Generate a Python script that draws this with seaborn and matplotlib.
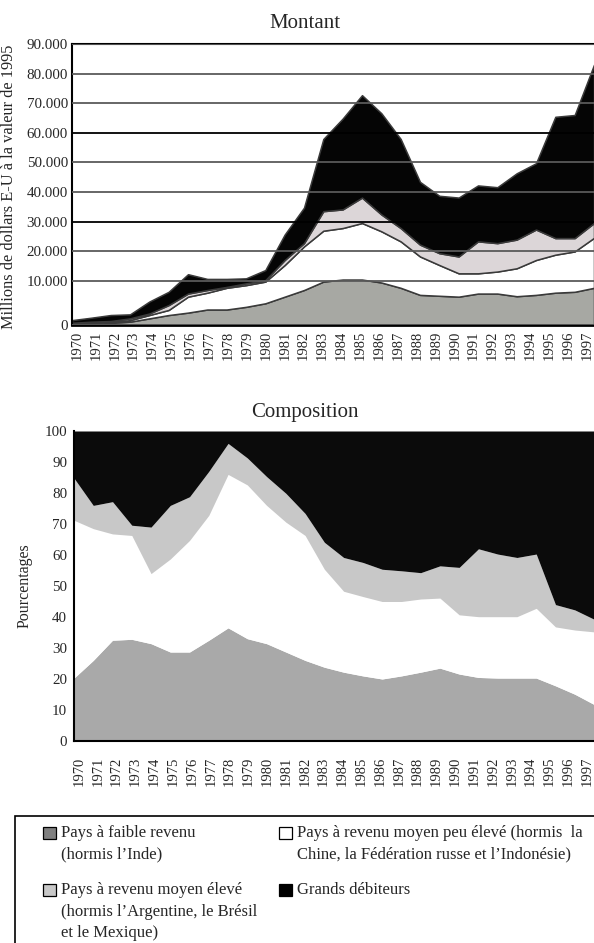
import numpy as np
import matplotlib
matplotlib.use('Agg')
import matplotlib.pyplot as plt
from matplotlib.patches import Rectangle
import seaborn as sns

# ─── Data ─────────────────────────────────────────────────────────────────────

years = list(range(1970, 1998))

# Montant : millions de dollars E-U à la valeur de 1995 (valeurs par couche)
mt_faible = [300, 400, 500, 750, 1500, 2250, 2800, 3500, 3500, 4100, 4900, 6400, 7900, 9800,
             10400, 10400, 9600, 8400, 6800, 6600, 6400, 7100, 7100, 6500, 6800, 7300, 7500, 8400]
mt_moyen_bas = [100, 50, 100, 350, 750, 1150, 3600, 3800, 4900, 4900, 4900, 8900, 13700, 17100,
                17400, 19100, 17100, 14900, 11400, 8700, 6100, 5400, 6000, 7700, 10200, 11500, 12400, 16100]
mt_moyen_haut = [100, 300, 300, 400, 350, 1100, 700, 600, 200, 400, 400, 1700, 1100, 6600,
                 6300, 8600, 5700, 4500, 4000, 4000, 5700, 10800, 9600, 9700, 10300, 5600, 4500, 5000]
mt_grands = [600, 900, 1350, 900, 2700, 3000, 5100, 2700, 2000, 1400, 3400, 8600, 12000, 24400,
             30700, 34600, 34200, 30100, 21200, 19400, 19900, 18900, 18900, 22400, 22400, 41000, 41600, 53500]

# Composition : pourcentages
pc_faible = [20.3, 26.0, 32.5, 32.8, 31.4, 28.7, 28.7, 32.5, 36.5, 33.0, 31.4, 28.7, 26.0, 23.8,
             22.2, 21.0, 20.0, 21.0, 22.2, 23.5, 21.6, 20.5, 20.3, 20.3, 20.3, 17.8, 15.1, 11.8]
pc_moyen_bas = [50.9, 42.5, 34.3, 33.5, 22.6, 30.0, 36.0, 40.3, 49.5, 49.6, 44.6, 41.9, 40.3, 31.6,
                26.1, 25.6, 25.0, 24.0, 23.6, 22.6, 19.1, 19.6, 19.8, 19.8, 22.5, 19.0, 20.7, 23.4]
pc_moyen_haut = [13.6, 7.5, 10.4, 3.3, 15.0, 17.3, 14.1, 14.2, 10.0, 8.7, 9.3, 9.3, 7.1, 8.7,
                 10.9, 11.0, 10.4, 9.9, 8.5, 10.4, 15.3, 21.9, 20.2, 19.1, 17.5, 7.2, 6.5, 4.1]
pc_grands = [15.2, 24.0, 22.8, 30.4, 31.0, 24.0, 21.2, 13.0, 4.0, 8.7, 14.7, 20.1, 26.6, 35.9,
             40.8, 42.4, 44.6, 45.1, 45.7, 43.5, 44.0, 38.0, 39.7, 40.8, 39.7, 56.0, 57.7, 60.7]

mt_ticks = [0, 10000, 20000, 30000, 40000, 50000, 60000, 70000, 80000, 90000]
mt_tick_labels = ['0', '10.000', '20.000', '30.000', '40.000', '50.000',
                  '60.000', '70.000', '80.000', '90.000']
pc_ticks = list(range(0, 101, 10))

legend_items = [
    ('#7f7f7f', ['Pays à faible revenu', '(hormis l’Inde)']),
    ('#ffffff', ['Pays à revenu moyen peu élevé (hormis  la',
                 'Chine, la Fédération russe et l’Indonésie)']),
    ('#c8c8c8', ['Pays à revenu moyen élevé', '(hormis l’Argentine, le Brésil',
                 'et le Mexique)']),
    ('#000000', ['Grands débiteurs']),
]

# ─── Style ────────────────────────────────────────────────────────────────────

sns.set_theme(style='white')
plt.rcParams['font.family'] = ['Liberation Serif', 'DejaVu Serif']
plt.rcParams['axes.edgecolor'] = 'black'

W, H = 594, 943
fig = plt.figure(figsize=(W / 100, H / 100), dpi=100)

x = np.arange(len(years))
tick_pos = np.linspace(0.26, 26.64, len(years))

# the original axis gives the 0–10.000 band more room than the others
K = 44 / 29.4


def _fwd(v):
    v = np.asarray(v, dtype=float)
    return np.where(v < 10000, v * K, v + 10000 * (K - 1))


def _inv(u):
    u = np.asarray(u, dtype=float)
    return np.where(u < 10000 * K, u / K, u - 10000 * (K - 1))


# ─── Montant ──────────────────────────────────────────────────────────────────

ax1 = fig.add_axes([72 / W, 1 - 325 / H, 522 / W, 281 / H])
ax1.stackplot(x, mt_faible, mt_moyen_bas, mt_moyen_haut, mt_grands,
              colors=['#a7a8a3', '#ffffff', '#dcd6d8', '#050505'],
              edgecolor='#3a3a3a', linewidth=1.1)
ax1.set_yscale('function', functions=(_fwd, _inv))
ax1.set_ylim(0, 90000)
ax1.set_xlim(0, len(years) - 1)
ax1.set_yticks(mt_ticks)
ax1.set_yticklabels(mt_tick_labels)
ax1.yaxis.grid(True, color='#5a5a5a', linewidth=1.3)
for i, gl in enumerate(ax1.get_ygridlines()):
    if mt_ticks[i] in (30000, 60000):
        gl.set_color('black')
ax1.set_axisbelow(False)
ax1.set_xticks(tick_pos)
ax1.set_xticklabels([str(y) for y in years], rotation=90)
ax1.tick_params(axis='x', length=0, pad=4, labelsize=10.5)
ax1.tick_params(axis='y', length=0, pad=3, labelsize=10.8)
ax1.spines['right'].set_visible(False)
ax1.spines['left'].set_linewidth(1.5)
ax1.spines['bottom'].set_linewidth(2)
ax1.spines['top'].set_linewidth(1.5)
ax1.set_ylabel('Millions de dollars E-U à la valeur de 1995', fontsize=11.8)
ax1.yaxis.set_label_coords(-0.105, 0.49)
fig.text(305 / W, 1 - 24 / H, 'Montant', ha='center', va='center', fontsize=15)

# ─── Composition ──────────────────────────────────────────────────────────────

ax2 = fig.add_axes([74 / W, 1 - 741 / H, 520 / W, 310 / H])
ax2.stackplot(x, pc_faible, pc_moyen_bas, pc_moyen_haut, pc_grands,
              colors=['#a9a9a9', '#ffffff', '#c8c8c8', '#0b0b0b'], linewidth=0)
ax2.set_ylim(0, 100)
ax2.set_xlim(0, len(years) - 1)
ax2.set_yticks(pc_ticks)
ax2.set_xticks(tick_pos)
ax2.set_xticklabels([str(y) for y in years], rotation=90)
ax2.tick_params(axis='x', length=0, pad=11, labelsize=10.5)
ax2.tick_params(axis='y', length=0, pad=5, labelsize=10.8)
sns.despine(ax=ax2, top=True, right=True)
ax2.spines['left'].set_linewidth(1.5)
ax2.spines['bottom'].set_linewidth(1.5)
ax2.set_ylabel('Pourcentages', fontsize=11.5)
ax2.yaxis.set_label_coords(-0.079, 0.5)
fig.text(305 / W, 1 - 412 / H, 'Composition', ha='center', va='center', fontsize=15)

# ─── Legend ───────────────────────────────────────────────────────────────────

fig.patches.append(Rectangle((15 / W, -0.02), 1.0, 1 - 816 / H + 0.02,
                             transform=fig.transFigure, fill=False,
                             edgecolor='black', linewidth=1.2))
spots = [(43, 833), (279, 833), (43, 890), (279, 890)]
for (col, lines), (px, py) in zip(legend_items, spots):
    fig.patches.append(Rectangle((px / W, 1 - (py + 6) / H), 13 / W, 12 / H,
                                 transform=fig.transFigure, facecolor=col,
                                 edgecolor='black', linewidth=0.9))
    for i, line in enumerate(lines):
        fig.text((px + 18) / W, 1 - (py + i * 21.7) / H, line,
                 ha='left', va='center', fontsize=12)

fig.savefig('out.png', dpi=100)
